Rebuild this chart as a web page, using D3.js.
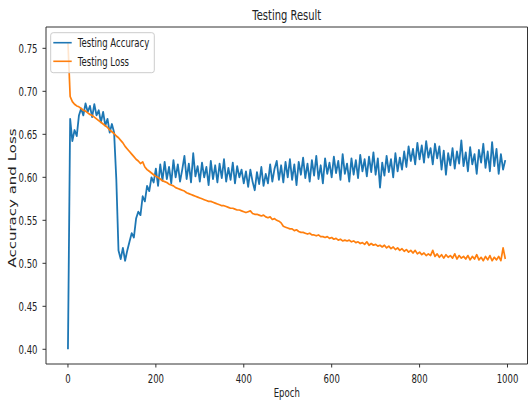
<!DOCTYPE html>
<html>
<head>
<meta charset="utf-8">
<script src="https://cdn.jsdelivr.net/npm/d3@7"></script>
<style>
  body { margin: 0; background: #fff; }
  svg { display: block; }
  text { font-family: "DejaVu Sans", sans-serif; fill: #222; }
</style>
</head>
<body>
<svg id="chart" width="528" height="403"></svg>
<script>
const width = 528
const height = 403
const squeezeX = 0.71   // the picture is squashed horizontally

// epochs sampled every 5
const epochStep = 5

const accuracy = [
  0.400, 0.668, 0.642, 0.655, 0.648, 0.672, 0.680, 0.672, 0.686, 0.676,
  0.683, 0.670, 0.685, 0.672, 0.678, 0.664, 0.676, 0.660, 0.668, 0.652,
  0.662, 0.652, 0.598, 0.515, 0.505, 0.518, 0.503, 0.515, 0.525, 0.535,
  0.530, 0.552, 0.560, 0.556, 0.578, 0.572, 0.590, 0.584, 0.600, 0.594,
  0.610, 0.590, 0.615, 0.596, 0.618, 0.598, 0.612, 0.593, 0.620, 0.600,
  0.615, 0.595, 0.609, 0.625, 0.598, 0.616, 0.594, 0.628, 0.601, 0.613,
  0.595, 0.617, 0.600, 0.612, 0.591, 0.619, 0.598, 0.614, 0.594, 0.616,
  0.599, 0.621, 0.595, 0.611, 0.597, 0.617, 0.593, 0.613, 0.600, 0.609,
  0.593, 0.607, 0.589, 0.609, 0.595, 0.585, 0.606, 0.592, 0.612, 0.590,
  0.604, 0.593, 0.615, 0.595, 0.610, 0.619, 0.597, 0.614, 0.594, 0.618,
  0.600, 0.621, 0.597, 0.615, 0.591, 0.618, 0.603, 0.623, 0.599, 0.616,
  0.595, 0.620, 0.602, 0.625, 0.598, 0.614, 0.593, 0.622, 0.604, 0.617,
  0.600, 0.624, 0.605, 0.619, 0.597, 0.627, 0.604, 0.616, 0.595, 0.622,
  0.603, 0.620, 0.599, 0.626, 0.607, 0.621, 0.601, 0.624, 0.606, 0.629,
  0.603, 0.622, 0.588, 0.617, 0.602, 0.625, 0.606, 0.621, 0.600, 0.628,
  0.607, 0.623, 0.609, 0.630, 0.612, 0.636, 0.619, 0.633, 0.615, 0.640,
  0.621, 0.637, 0.617, 0.642, 0.623, 0.634, 0.615, 0.639, 0.622, 0.636,
  0.609, 0.631, 0.603, 0.628, 0.614, 0.634, 0.610, 0.630, 0.616, 0.643,
  0.613, 0.629, 0.607, 0.635, 0.615, 0.627, 0.604, 0.632, 0.617, 0.639,
  0.611, 0.630, 0.607, 0.641, 0.613, 0.633, 0.604, 0.627, 0.609, 0.620
]

const loss = [
  0.757, 0.694, 0.688, 0.685, 0.683, 0.682, 0.680, 0.678, 0.677, 0.675,
  0.673, 0.672, 0.670, 0.668, 0.666, 0.664, 0.662, 0.660, 0.658, 0.655,
  0.653, 0.651, 0.648, 0.646, 0.643, 0.640, 0.636, 0.633, 0.630, 0.627,
  0.624, 0.621, 0.619, 0.616, 0.618, 0.612, 0.609, 0.607, 0.605, 0.603,
  0.601, 0.600, 0.598, 0.596, 0.595, 0.594, 0.592, 0.591, 0.590, 0.588,
  0.587, 0.586, 0.585, 0.584, 0.582, 0.581, 0.580, 0.579, 0.578, 0.577,
  0.576, 0.575, 0.574, 0.573, 0.572, 0.572, 0.571, 0.570, 0.569, 0.568,
  0.567, 0.567, 0.566, 0.565, 0.564, 0.564, 0.563, 0.562, 0.562, 0.561,
  0.560, 0.559, 0.560, 0.561, 0.558, 0.557, 0.557, 0.556, 0.555, 0.556,
  0.554, 0.553, 0.554, 0.551, 0.552, 0.550, 0.549, 0.547, 0.543, 0.542,
  0.541, 0.540, 0.540, 0.538, 0.539, 0.537, 0.536, 0.536, 0.535, 0.534,
  0.535, 0.533, 0.533, 0.532, 0.533, 0.531, 0.531, 0.530, 0.531, 0.529,
  0.530, 0.528, 0.529, 0.527, 0.528, 0.526, 0.527, 0.526, 0.527, 0.525,
  0.526, 0.524, 0.525, 0.523, 0.524, 0.522, 0.525, 0.521, 0.523, 0.521,
  0.522, 0.520, 0.521, 0.519, 0.521, 0.518, 0.520, 0.517, 0.519, 0.516,
  0.518, 0.515, 0.517, 0.514, 0.516, 0.513, 0.515, 0.512, 0.515, 0.511,
  0.513, 0.510, 0.512, 0.509, 0.511, 0.509, 0.515, 0.508, 0.511, 0.507,
  0.510, 0.506, 0.510, 0.507, 0.509, 0.506, 0.511, 0.505, 0.509, 0.506,
  0.508, 0.505, 0.509, 0.504, 0.508, 0.505, 0.510, 0.504, 0.507, 0.503,
  0.508, 0.504, 0.509, 0.503, 0.507, 0.504, 0.508, 0.503, 0.518, 0.505
]

const xTicks = [0, 200, 400, 600, 800, 1000]
const yTicks = [0.40, 0.45, 0.50, 0.55, 0.60, 0.65, 0.70, 0.75]
const seriesNames = ["Testing Accuracy", "Testing Loss"]
const seriesColors = ["#1f77b4", "#ff7f0e"]

const plot = { left: 46, top: 27, right: 529, bottom: 364 }

var svg = d3.select("#chart")

var x = d3.scaleLinear().domain([-49.95, 1048.95]).range([plot.left, plot.right])
var y = d3.scaleLinear().domain([0.3829, 0.7748]).range([plot.bottom, plot.top])

function squeeze(sel, k) {
  sel.each(function () {
    let w = this.getComputedTextLength()
    d3.select(this).attr("textLength", w * k).attr("lengthAdjust", "spacingAndGlyphs")
  })
}

// soft edges like the reference picture
svg.append("defs").append("filter")
  .attr("id", "soft")
  .append("feGaussianBlur")
  .attr("stdDeviation", 0.35)

// lines
var line = d3.line()
  .x((d, i) => x(i * epochStep))
  .y(d => y(d))

var series = [accuracy, loss]
svg.append("g")
  .attr("filter", "url(#soft)")
  .selectAll("path")
  .data(series)
  .enter().append("path")
  .attr("d", d => line(d))
  .attr("fill", "none")
  .attr("stroke", (d, i) => seriesColors[i])
  .attr("stroke-width", (d, i) => i == 0 ? 1.8 : 1.7)
  .attr("stroke-linejoin", "round")

// frame
var rightEdge = Math.min(plot.right, width - 0.5)
svg.append("path")
  .attr("d", `M${plot.left},${plot.top}H${rightEdge}V${plot.bottom}H${plot.left}Z`)
  .attr("fill", "none")
  .attr("stroke", "#333")
  .attr("stroke-width", 1)

// y axis
var yAxis = svg.append("g").attr("class", "y-axis")
yAxis.selectAll("line")
  .data(yTicks)
  .enter().append("line")
  .attr("x1", plot.left - 3.5).attr("x2", plot.left)
  .attr("y1", d => y(d)).attr("y2", d => y(d))
  .attr("stroke", "#333")
yAxis.selectAll("text")
  .data(yTicks)
  .enter().append("text")
  .attr("x", plot.left - 8.5)
  .attr("y", d => y(d))
  .attr("dy", "0.36em")
  .attr("text-anchor", "end")
  .attr("font-size", 12)
  .text(d => d.toFixed(2))
  .call(squeeze, squeezeX)

// x axis
var xAxis = svg.append("g").attr("class", "x-axis")
xAxis.selectAll("line")
  .data(xTicks)
  .enter().append("line")
  .attr("x1", d => x(d)).attr("x2", d => x(d))
  .attr("y1", plot.bottom).attr("y2", plot.bottom + 3.5)
  .attr("stroke", "#333")
xAxis.selectAll("text")
  .data(xTicks)
  .enter().append("text")
  .attr("x", d => x(d))
  .attr("y", plot.bottom + 19)
  .attr("text-anchor", "middle")
  .attr("font-size", 12)
  .text(d => d)
  .call(squeeze, squeezeX)

// title and labels
var midX = (plot.left + rightEdge) / 2
svg.append("text")
  .attr("x", midX).attr("y", 20)
  .attr("text-anchor", "middle")
  .attr("font-size", 14)
  .text("Testing Result")
  .call(squeeze, squeezeX)

svg.append("text")
  .attr("x", midX).attr("y", 397)
  .attr("text-anchor", "middle")
  .attr("font-size", 12)
  .text("Epoch")
  .call(squeeze, squeezeX)

svg.append("text")
  .attr("transform", `translate(15.5,198) scale(${squeezeX},1) rotate(-90)`)
  .attr("text-anchor", "middle")
  .attr("font-size", 15)
  .text("Accuracy and Loss")

// legend
var legend = svg.append("g").attr("class", "legend")
legend.append("rect")
  .attr("x", 50.7).attr("y", 32.7)
  .attr("width", 103.6).attr("height", 40)
  .attr("rx", 2.5)
  .attr("fill", "#fff").attr("fill-opacity", 0.8)
  .attr("stroke", "#ccc")

var items = legend.selectAll("g.item")
  .data(seriesNames)
  .enter().append("g")
  .attr("class", "item")
  .attr("transform", (d, i) => `translate(0,${42.7 + i * 18.6})`)
items.append("line")
  .attr("x1", 53.3).attr("x2", 71.7)
  .attr("stroke", (d, i) => seriesColors[i])
  .attr("stroke-width", 1.6)
items.append("text")
  .attr("x", 77.7).attr("y", 4.3)
  .attr("font-size", 12)
  .text(d => d)
  .call(squeeze, squeezeX)
</script>
</body>
</html>
